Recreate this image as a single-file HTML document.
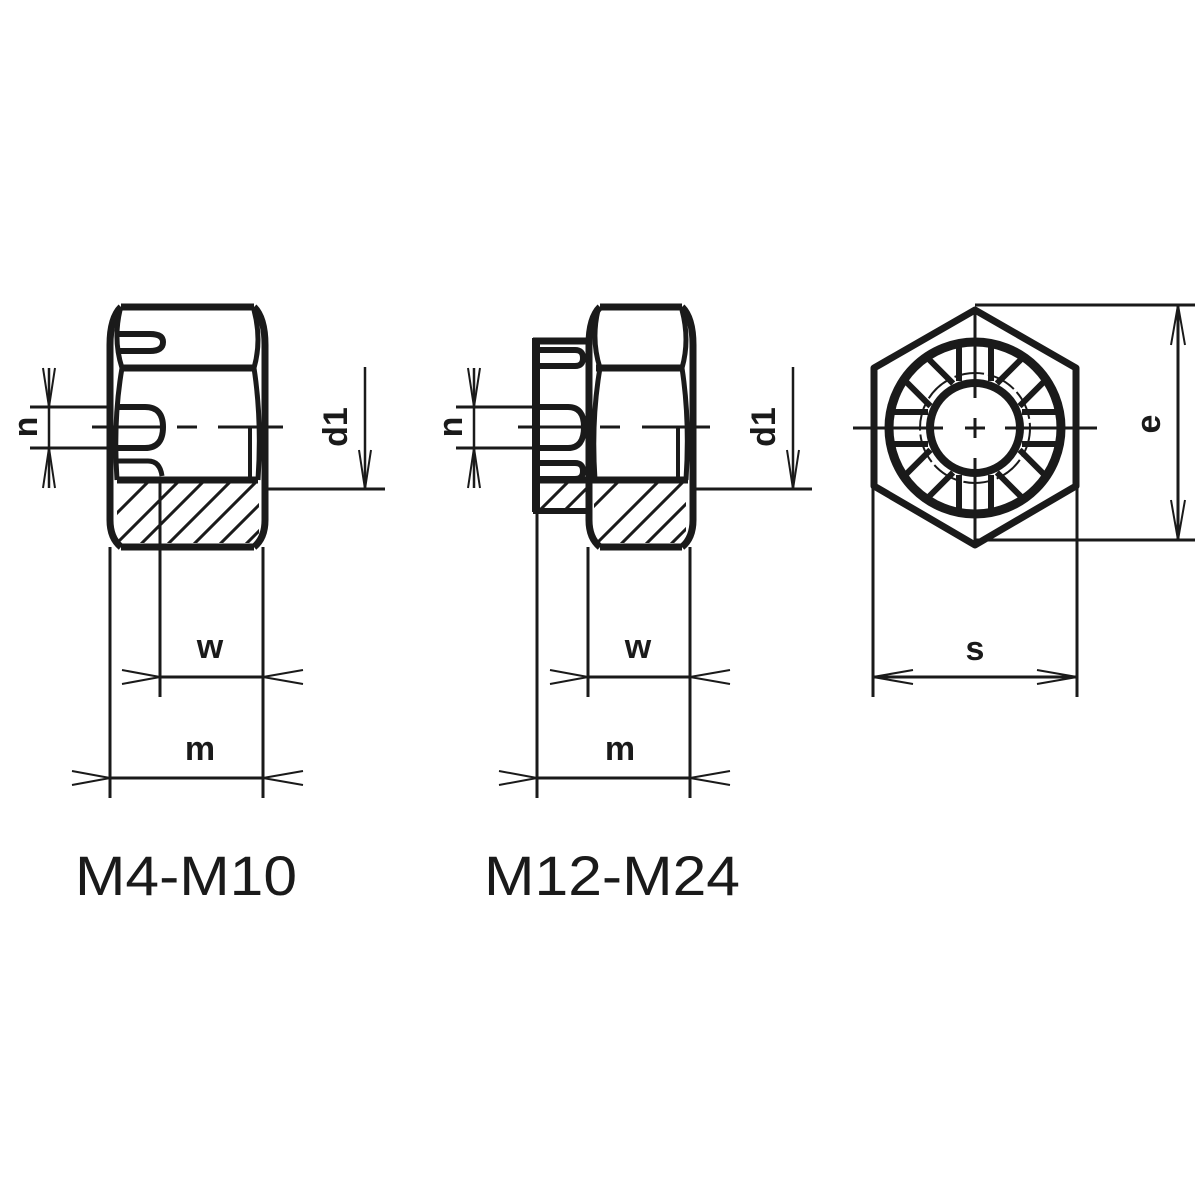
<!DOCTYPE html>
<html><head><meta charset="utf-8"><style>
html,body{margin:0;padding:0;background:#fff;}
svg{display:block;}
text{font-family:"Liberation Sans",sans-serif;fill:#1a1a1a;}
</style></head><body>
<svg width="1200" height="1200" viewBox="0 0 1200 1200" xmlns="http://www.w3.org/2000/svg">
<defs>
<clipPath id="h1"><rect x="117" y="482" width="142" height="61"/></clipPath>
<clipPath id="h2a"><rect x="540" y="482" width="50" height="28"/></clipPath>
<clipPath id="h2b"><rect x="594" y="482" width="92" height="61"/></clipPath>
</defs>
<g stroke="#1a1a1a" fill="none" stroke-linecap="butt">

<line x1="121" y1="307" x2="254" y2="307" stroke-width="7"/>
<path d="M121,307 Q110,318 110,345 L110,520 Q110,538 121,547" stroke-width="7"/>
<path d="M254,307 Q265,318 265,345 L265,520 Q265,538 254,547" stroke-width="7"/>
<line x1="121" y1="547" x2="254" y2="547" stroke-width="7"/>
<path d="M120,310 Q113,340 122,368 Q113,420 117,480" stroke-width="5"/>
<path d="M254,310 Q262,340 254,368 Q262,420 258,480" stroke-width="5"/>
<line x1="120" y1="368" x2="256" y2="368" stroke-width="7"/>
<path d="M116,334 L150,334 Q163,334 163,342 Q163,351 150,351 L116,351" stroke-width="6"/>
<path d="M116,407 L145,407 Q163,407 163,427 Q163,448 145,448 L116,448" stroke-width="6"/>
<path d="M116,461 L148,461 Q160,461 162,476" stroke-width="5"/>
<line x1="117" y1="480" x2="258" y2="480" stroke-width="7"/>
<g clip-path="url(#h1)" stroke-width="3">
<line x1="110" y1="520" x2="150" y2="480"/><line x1="110" y1="550" x2="180" y2="480"/>
<line x1="135" y1="550" x2="205" y2="480"/><line x1="162" y1="550" x2="232" y2="480"/>
<line x1="188" y1="550" x2="258" y2="480"/><line x1="214" y1="550" x2="284" y2="480"/>
<line x1="240" y1="550" x2="310" y2="480"/>
</g>
<line x1="250" y1="428" x2="250" y2="482" stroke-width="4"/>
<line x1="92" y1="427" x2="163" y2="427" stroke-width="3"/>
<line x1="177" y1="427" x2="197" y2="427" stroke-width="3"/>
<line x1="218" y1="427" x2="283" y2="427" stroke-width="3"/>
<line x1="30" y1="407" x2="108" y2="407" stroke-width="3"/>
<line x1="30" y1="448" x2="108" y2="448" stroke-width="3"/>
<line x1="49" y1="368" x2="49" y2="488" stroke-width="2.5"/>
<path d="M43,368 L49,407 L55,368 M43,488 L49,448 L55,488" stroke-width="2"/>
<line x1="265" y1="489" x2="385" y2="489" stroke-width="3"/>
<line x1="365" y1="367" x2="365" y2="489" stroke-width="2.5"/>
<path d="M359,450 L365,489 L371,450" stroke-width="2"/>
<line x1="160" y1="482" x2="160" y2="697" stroke-width="3"/>
<line x1="110" y1="547" x2="110" y2="798" stroke-width="3"/>
<line x1="263" y1="547" x2="263" y2="798" stroke-width="3"/>
<line x1="160" y1="677" x2="263" y2="677" stroke-width="3"/>
<path d="M122,670 L160,677 L122,684 M303,670 L263,677 L303,684" stroke-width="2"/>
<line x1="110" y1="778" x2="263" y2="778" stroke-width="3"/>
<path d="M72,771 L110,778 L72,785 M303,771 L263,778 L303,785" stroke-width="2"/>

<line x1="600" y1="307" x2="682" y2="307" stroke-width="7"/>
<path d="M600,307 Q589,318 589,345 L589,520 Q589,538 600,547" stroke-width="7"/>
<path d="M682,307 Q693,318 693,345 L693,520 Q693,538 682,547" stroke-width="7"/>
<line x1="600" y1="547" x2="682" y2="547" stroke-width="7"/>
<path d="M598,310 Q591,340 600,368 Q591,420 595,480" stroke-width="5"/>
<path d="M682,310 Q690,340 682,368 Q690,420 686,480" stroke-width="5"/>
<line x1="596" y1="368" x2="684" y2="368" stroke-width="7"/>
<line x1="533" y1="341" x2="590" y2="341" stroke-width="7"/>
<line x1="536" y1="338" x2="536" y2="512" stroke-width="8"/>
<line x1="533" y1="511" x2="590" y2="511" stroke-width="6"/>
<path d="M540,350 L575,350 Q583,350 583,358 Q583,366 575,366 L540,366" stroke-width="6"/>
<path d="M540,407 L568,407 Q584,407 584,427 Q584,448 568,448 L540,448" stroke-width="6"/>
<path d="M540,463 L575,463 Q583,463 583,471 Q583,479 575,479 L540,479" stroke-width="6"/>
<line x1="536" y1="480" x2="688" y2="480" stroke-width="7"/>
<g clip-path="url(#h2a)" stroke-width="3">
<line x1="530" y1="520" x2="570" y2="480"/><line x1="555" y1="520" x2="595" y2="480"/>
<line x1="580" y1="520" x2="620" y2="480"/>
</g>
<g clip-path="url(#h2b)" stroke-width="3">
<line x1="590" y1="510" x2="620" y2="480"/><line x1="590" y1="550" x2="660" y2="480"/>
<line x1="615" y1="550" x2="685" y2="480"/><line x1="640" y1="550" x2="710" y2="480"/>
<line x1="665" y1="550" x2="735" y2="480"/>
</g>
<line x1="678" y1="428" x2="678" y2="482" stroke-width="4"/>
<line x1="518" y1="427" x2="585" y2="427" stroke-width="3"/>
<line x1="600" y1="427" x2="620" y2="427" stroke-width="3"/>
<line x1="642" y1="427" x2="710" y2="427" stroke-width="3"/>
<line x1="456" y1="407" x2="534" y2="407" stroke-width="3"/>
<line x1="456" y1="448" x2="534" y2="448" stroke-width="3"/>
<line x1="474" y1="368" x2="474" y2="488" stroke-width="2.5"/>
<path d="M468,368 L474,407 L480,368 M468,488 L474,448 L480,488" stroke-width="2"/>
<line x1="693" y1="489" x2="812" y2="489" stroke-width="3"/>
<line x1="793" y1="367" x2="793" y2="489" stroke-width="2.5"/>
<path d="M787,450 L793,489 L799,450" stroke-width="2"/>
<line x1="588" y1="547" x2="588" y2="697" stroke-width="3"/>
<line x1="537" y1="512" x2="537" y2="798" stroke-width="3"/>
<line x1="690" y1="547" x2="690" y2="798" stroke-width="3"/>
<line x1="588" y1="677" x2="690" y2="677" stroke-width="3"/>
<path d="M550,670 L588,677 L550,684 M730,670 L690,677 L730,684" stroke-width="2"/>
<line x1="537" y1="778" x2="690" y2="778" stroke-width="3"/>
<path d="M499,771 L537,778 L499,785 M730,771 L690,778 L730,785" stroke-width="2"/>

<polygon points="975,310 1076,368 1076,486 975,545 874,486 874,368" stroke-width="7" stroke-linejoin="round"/>
<circle cx="975" cy="428" r="86" stroke-width="9"/>
<circle cx="975" cy="428" r="45" stroke-width="8"/>
<circle cx="975" cy="428" r="55" stroke-width="2" stroke-dasharray="30 4"/>
<g stroke-width="6">
<g id="sl"><line x1="1022" y1="412" x2="1060" y2="412"/><line x1="1022" y1="444" x2="1060" y2="444"/></g>
<use href="#sl" transform="rotate(45 975 428)"/><use href="#sl" transform="rotate(90 975 428)"/>
<use href="#sl" transform="rotate(135 975 428)"/><use href="#sl" transform="rotate(180 975 428)"/>
<use href="#sl" transform="rotate(225 975 428)"/><use href="#sl" transform="rotate(270 975 428)"/>
<use href="#sl" transform="rotate(315 975 428)"/>
</g>
<g stroke-width="3">
<line x1="853" y1="428" x2="943" y2="428"/><line x1="965" y1="428" x2="985" y2="428"/>
<line x1="1005" y1="428" x2="1097" y2="428"/>
<line x1="975" y1="307" x2="975" y2="398"/><line x1="975" y1="418" x2="975" y2="438"/>
<line x1="975" y1="458" x2="975" y2="548"/>
</g>
<line x1="975" y1="305" x2="1195" y2="305" stroke-width="3"/>
<line x1="975" y1="540" x2="1195" y2="540" stroke-width="3"/>
<line x1="1178" y1="305" x2="1178" y2="540" stroke-width="3"/>
<path d="M1171,345 L1178,305 L1185,345 M1171,500 L1178,540 L1185,500" stroke-width="2"/>
<line x1="873" y1="486" x2="873" y2="697" stroke-width="3"/>
<line x1="1077" y1="486" x2="1077" y2="697" stroke-width="3"/>
<line x1="873" y1="677" x2="1077" y2="677" stroke-width="3"/>
<path d="M913,670 L873,677 L913,684 M1037,670 L1077,677 L1037,684" stroke-width="2"/>
</g>

<g font-weight="bold" font-size="34">
<text x="210" y="658" text-anchor="middle">w</text>
<text x="638" y="658" text-anchor="middle">w</text>
<text x="200" y="760" text-anchor="middle">m</text>
<text x="620" y="760" text-anchor="middle">m</text>
<text x="975" y="660" text-anchor="middle">s</text>
<text transform="translate(37,427) rotate(-90)" text-anchor="middle">n</text>
<text transform="translate(462,427) rotate(-90)" text-anchor="middle">n</text>
<text transform="translate(347,427) rotate(-90)" text-anchor="middle">d1</text>
<text transform="translate(775,427) rotate(-90)" text-anchor="middle">d1</text>
<text transform="translate(1160,424) rotate(-90)" text-anchor="middle">e</text>
</g>
<text x="75" y="895" font-size="56" textLength="222" lengthAdjust="spacingAndGlyphs">M4-M10</text>
<text x="484" y="895" font-size="56" textLength="256" lengthAdjust="spacingAndGlyphs">M12-M24</text>
</svg>
</body></html>
